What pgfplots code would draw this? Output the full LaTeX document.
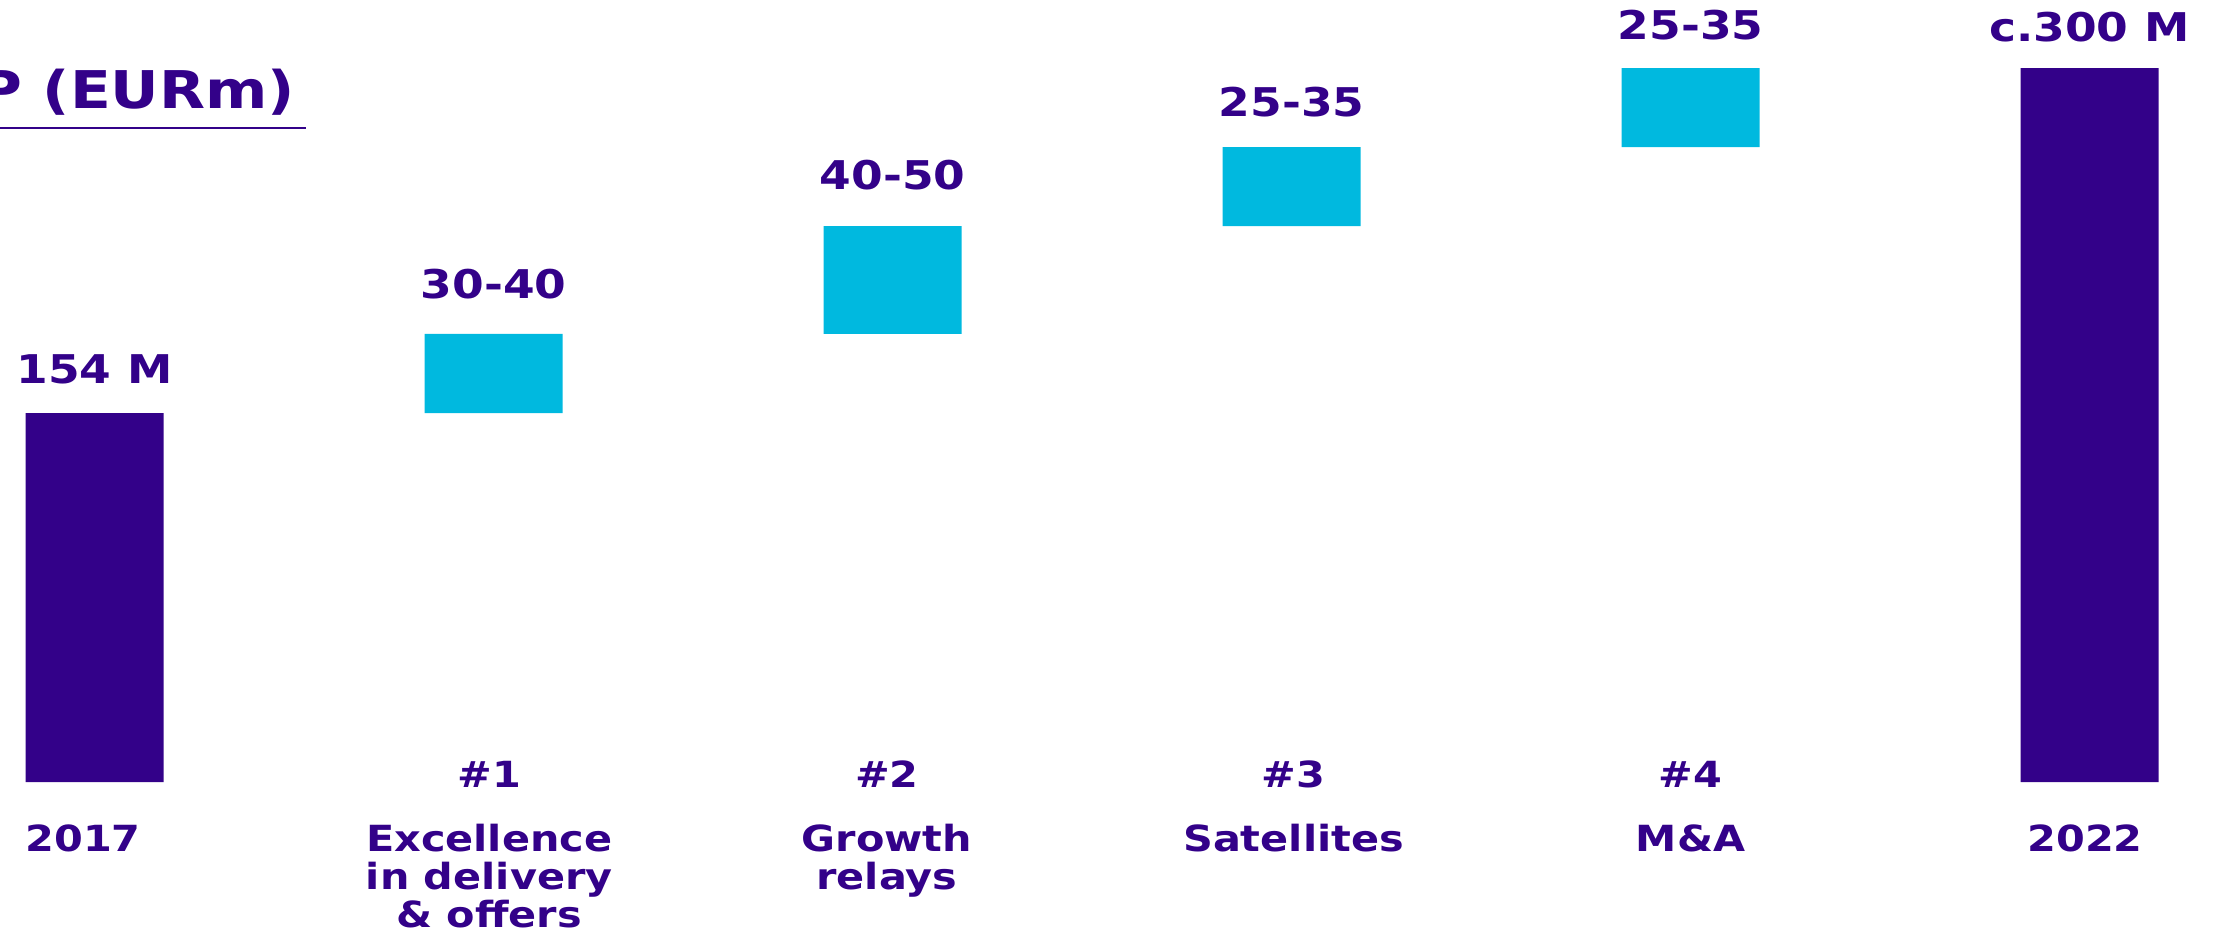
\documentclass[border=0pt]{standalone}
\usepackage{fontspec}
\setmainfont{DejaVu Sans}
\newfontfamily\widefont[FakeStretch=1.15]{DejaVu Sans}
\usepackage{pgfplots}
\pgfplotsset{compat=1.18}
\definecolor{deeppurple}{HTML}{330189}
\definecolor{brightcyan}{HTML}{00B9DF}
\newcommand{\hs}{\rule{0pt}{7pt}}
\pgfplotsset{
  frame/.style={
    at={(0pt,38.5pt)}, anchor=south west,
    scale only axis, width=556.5pt, height=195.5pt,
    xmin=-0.237, xmax=5.342, ymin=0, ymax=326.4,
    axis line style={draw=none},
    major tick length=0pt, tick style={draw=none},
    ytick=\empty,
  }
}
\begin{document}
\begin{tikzpicture}
% bars: invisible base + visible increments, stacked
\begin{axis}[
  frame,
  ybar stacked, bar width=0.346,
  xtick={-0.029,0.989,1.986,3.005,4,4.989},
  xticklabels={
    {\hs\\[6.5pt]2017},
    {\hs\#1\\[6.5pt]Excellence\\in delivery\\\&\ offers},
    {\hs\#2\\[6.5pt]Growth\\relays},
    {\hs\#3\\[6.5pt]Satellites},
    {\hs\#4\\[6.5pt]M\&A},
    {\hs\\[6.5pt]2022}},
  xticklabel style={anchor=north, inner sep=0pt, yshift=5.8pt, align=center,
    font=\widefont\bfseries\fontsize{9}{9.5}\selectfont, text=deeppurple},
]
\addplot[draw=none, fill=none, forget plot] coordinates {
  (0,0) (1,154) (2,187) (3,232) (4,265) (5,0)};
\addplot[draw=none, fill=deeppurple] coordinates {
  (0,154) (1,0) (2,0) (3,0) (4,0) (5,298)};
\addplot[draw=none, fill=brightcyan] coordinates {
  (0,0) (1,33) (2,45) (3,33) (4,33) (5,0)};
\end{axis}
% value labels at the top of each bar
\begin{axis}[
  frame,
  xtick=\empty,
  nodes near coords,
  point meta=explicit symbolic,
  every node near coord/.append style={anchor=south, inner sep=0pt, yshift=7pt,
    font=\widefont\bfseries\fontsize{9.9}{12}\selectfont, text=deeppurple},
]
\addplot[draw=none, mark=none] coordinates {
  (0,154) [154 M] (1,189.5) [30-40] (2,235) [40-50] (3,265.5) [25-35] (4,297.5) [25-35] (5,297) [c.300 M]};
\end{axis}
\node[anchor=base east, inner sep=0pt, text=deeppurple,
  font=\widefont\bfseries\fontsize{13}{15}\selectfont] at (74pt,207pt) {P (EURm)};
\draw[deeppurple, line width=0.35pt] (0pt,202pt) -- (76.5pt,202pt);
\pgfresetboundingbox
\useasboundingbox (0pt,0pt) rectangle (556.5pt,234pt);
\end{tikzpicture}
\end{document}
